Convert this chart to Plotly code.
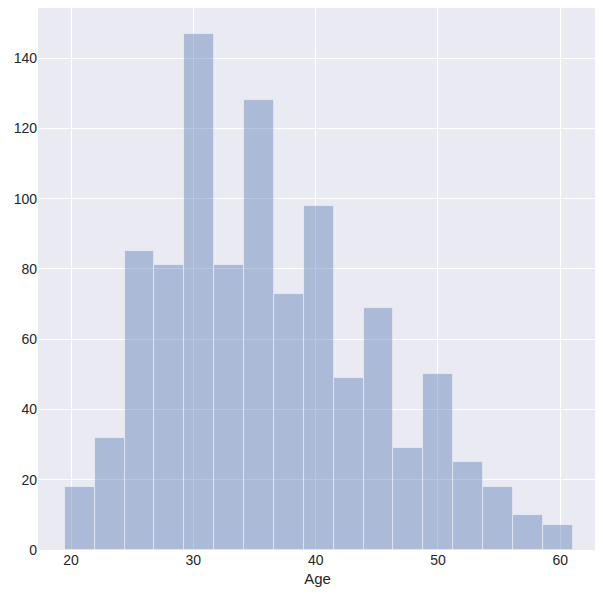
import plotly.graph_objects as go

counts = [18, 32, 85, 81, 147, 81, 128, 73, 98, 49, 69, 29, 50, 25, 18, 10, 7]
x_min, x_max = 19.5, 61.0
n = len(counts)
w = (x_max - x_min) / n
centers = [x_min + w * (i + 0.5) for i in range(n)]

fig = go.Figure(go.Bar(
    x=centers, y=counts, width=[w] * n,
    marker=dict(color="rgba(76,114,176,0.4)", line=dict(color="rgba(255,255,255,0.6)", width=0.8)),
))
fig.update_layout(
    width=595, height=589,
    margin=dict(l=30, r=6, t=0, b=47, autoexpand=False),
    paper_bgcolor="white", plot_bgcolor="#EAEAF2",
    font=dict(family="Liberation Sans", size=14, color="#262626"),
    showlegend=False, bargap=0,
)
fig.update_xaxes(range=[17.3, 63.0], tickvals=[20, 30, 40, 50, 60], gridcolor="white",
                 gridwidth=1.2, zeroline=False, showline=False, ticks="", automargin=False,
                 title=dict(text="Age", standoff=6, font=dict(size=15)))
fig.update_yaxes(range=[0, 154.3], tickvals=[0, 20, 40, 60, 80, 100, 120, 140], gridcolor="white",
                 gridwidth=1.2, zeroline=False, showline=False, ticks="", automargin=False)
fig.write_html("out.html")
